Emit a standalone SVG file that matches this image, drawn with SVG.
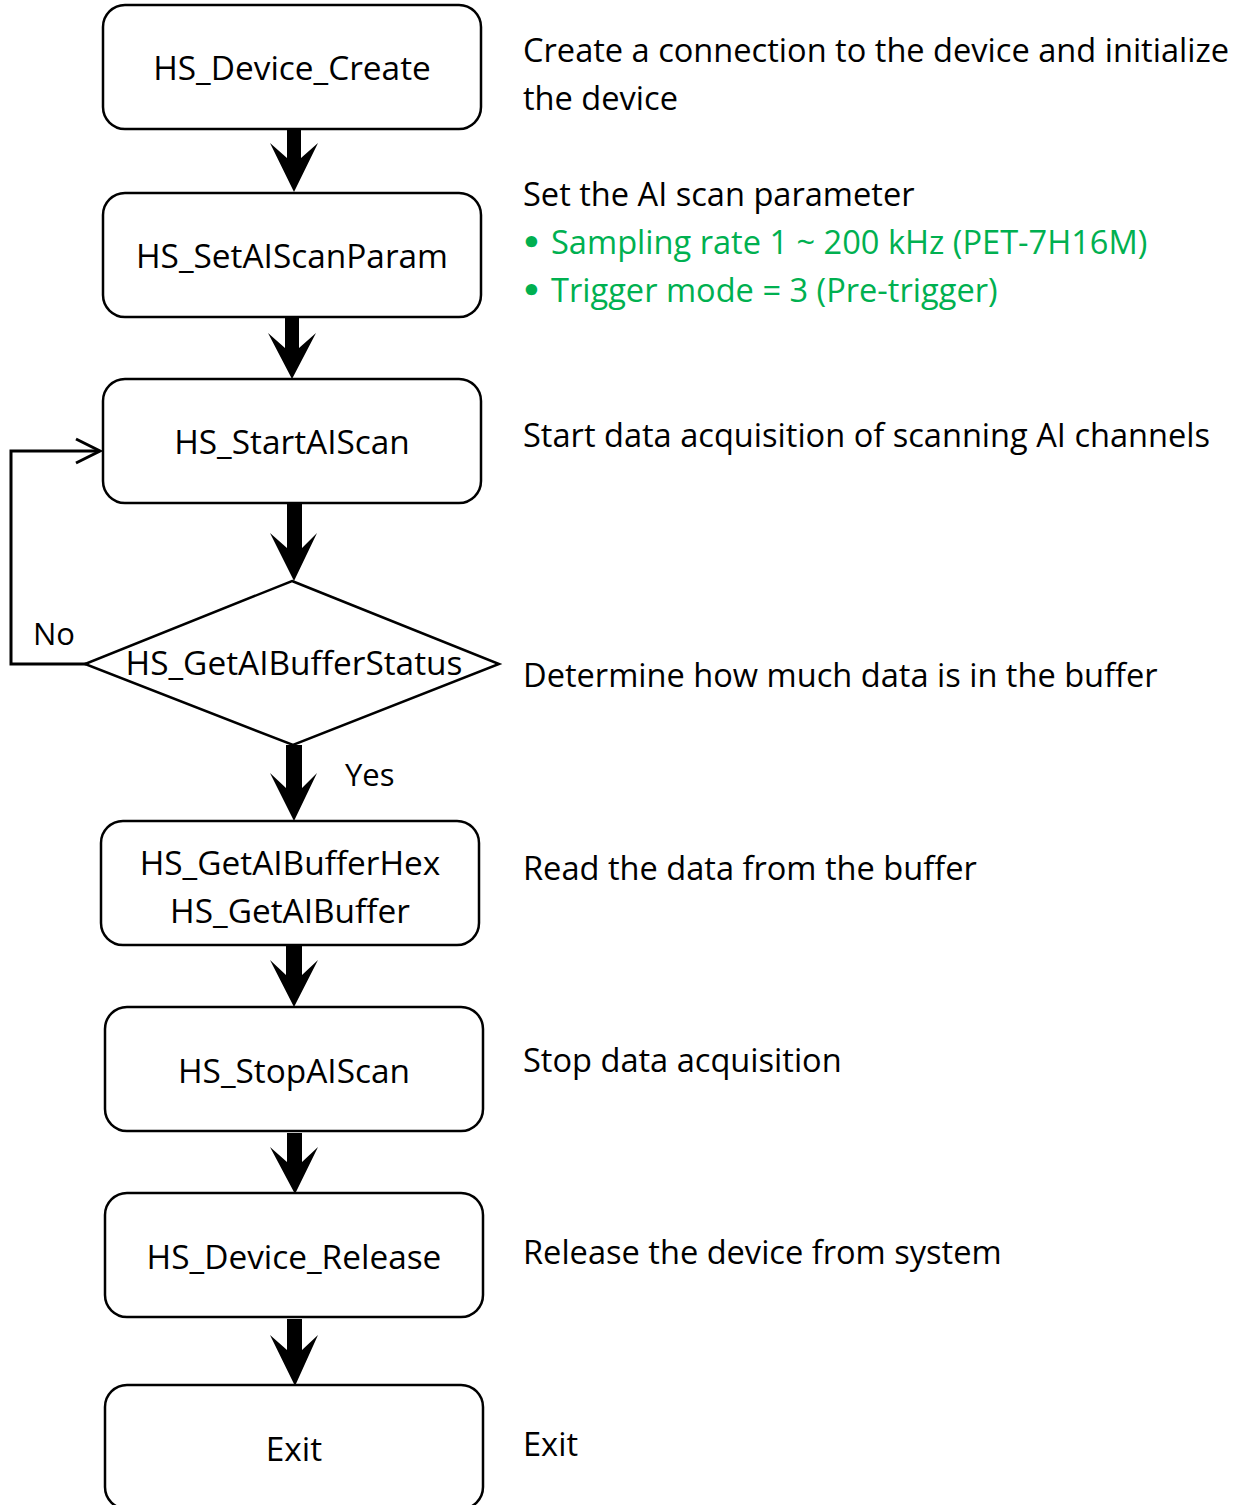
<svg xmlns="http://www.w3.org/2000/svg" width="1244" height="1505" viewBox="0 0 1244 1505">
<defs>
<style>
text{font-family:"Open Sans","Noto Sans","DejaVu Sans",sans-serif;font-size:32.6px;fill:#000}
.n text{font-size:33.4px}
.box{fill:#fff;stroke:#000;stroke-width:2.5}
.c{text-anchor:middle}
.g{fill:#00B050}
.b{font-family:"DejaVu Sans",sans-serif;font-weight:bold}
.arr{fill:#000}
.loop{fill:none;stroke:#000;stroke-width:3}
</style>
</defs>
<rect width="1244" height="1505" fill="#fff"/>
<g id="connectors">
<polygon class="arr" points="287,130 287,158 270,143 294,192 318,143 301,158 301,130"/>
<polygon class="arr" points="285,318 285,348 268,333 292,379 316,333 299,348 299,318"/>
<polygon class="arr" points="287,504 287,548 270,533 294,581 317,533 302,548 302,504"/>
<polygon class="arr" points="286,745 286,788 270,773 294,821 317,773 302,788 302,745"/>
<polygon class="arr" points="286,946 286,975 270,960 294,1007 318,960 302,975 302,946"/>
<polygon class="arr" points="287,1133 287,1162 270,1147 295,1194 318,1147 302,1162 302,1133"/>
<polygon class="arr" points="287,1319 287,1350 270,1335 295,1386 318,1335 302,1350 302,1319"/>
<polyline class="loop" points="86,664 11,664 11,451 99,451"/>
<polyline class="loop" points="76,439 100,451 76,463"/>
<text x="33" y="645" style="font-size:31px">No</text>
<text x="345" y="786" style="font-size:31px">Yes</text>
</g>
<g class="n">
<g id="n1"><rect class="box" x="103" y="5" width="378" height="124" rx="22"/><text class="c" x="292" y="80">HS_Device_Create</text></g>
<g id="n2"><rect class="box" x="103" y="193" width="378" height="124" rx="22"/><text class="c" x="292" y="268">HS_SetAIScanParam</text></g>
<g id="n3"><rect class="box" x="103" y="379" width="378" height="124" rx="22"/><text class="c" x="292" y="454">HS_StartAIScan</text></g>
<g id="n4"><polygon class="box" points="292,581 499,664 293,745 85,664"/><text class="c" x="294" y="675">HS_GetAIBufferStatus</text></g>
<g id="n5"><rect class="box" x="101" y="821" width="378" height="124" rx="22"/><text class="c" x="290" y="875">HS_GetAIBufferHex</text><text class="c" x="290" y="923">HS_GetAIBuffer</text></g>
<g id="n6"><rect class="box" x="105" y="1007" width="378" height="124" rx="22"/><text class="c" x="294" y="1083">HS_StopAIScan</text></g>
<g id="n7"><rect class="box" x="105" y="1193" width="378" height="124" rx="22"/><text class="c" x="294" y="1269">HS_Device_Release</text></g>
<g id="n8"><rect class="box" x="105" y="1385" width="378" height="124" rx="22"/><text class="c" x="294" y="1461">Exit</text></g>
</g>
<g id="notes">
<text x="523" y="62">Create a connection to the device and initialize</text>
<text x="523" y="110">the device</text>
<text x="523" y="206">Set the AI scan parameter</text>
<text class="g" x="521" y="254"><tspan class="b">•</tspan><tspan x="551">Sampling rate 1 ~ 200 kHz (PET-7H16M)</tspan></text>
<text class="g" x="521" y="302"><tspan class="b">•</tspan><tspan x="551">Trigger mode = 3 (Pre-trigger)</tspan></text>
<text x="523" y="447">Start data acquisition of scanning AI channels</text>
<text x="523" y="687">Determine how much data is in the buffer</text>
<text x="523" y="880">Read the data from the buffer</text>
<text x="523" y="1072">Stop data acquisition</text>
<text x="523" y="1264">Release the device from system</text>
<text x="523" y="1456">Exit</text>
</g>
</svg>
